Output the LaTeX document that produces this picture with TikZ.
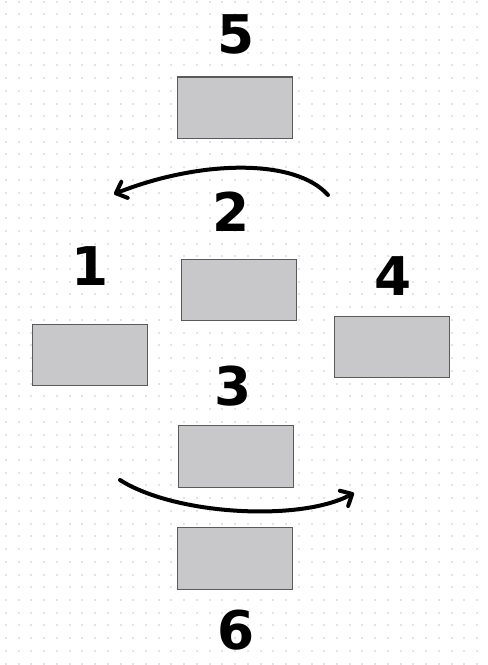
\documentclass[tikz,border=0pt]{standalone}
\usepackage{xcolor}
\usepackage{tikz}
\usepackage{fontspec}
\setmainfont{DejaVu Sans}
\usetikzlibrary{arrows.meta}

\definecolor{gridDot}{HTML}{E2E2E8}
\definecolor{boxFill}{HTML}{C8C8CA}
\definecolor{boxLine}{HTML}{5A5A5A}

\tikzset{
  box/.style={draw=boxLine, fill=boxFill, line width=0.8pt, minimum width=86.25pt, minimum height=46.1pt, inner sep=0pt},
  num/.style={anchor=base, inner sep=0pt, font=\fontsize{40}{40}\selectfont\bfseries},
  curvedarrow/.style={line width=3pt, line cap=round, -{Straight Barb[length=7pt,width=13pt,line cap=round,line join=round]}}
}

\begin{document}
\begin{tikzpicture}[x=0.75pt,y=0.75pt,yscale=-1,xscale=1]

\useasboundingbox (0,0) rectangle (488,665);
\fill[white] (0,0) rectangle (488,665);

% dot grid
\foreach \i in {0,...,37}
  \foreach \j in {0,...,52}
    \fill[gridDot] ({5+12.73*\i},{0.7+12.73*\j}) rectangle ++(2,2);

\node [box] (box5) at (235,107.7) {};
\node [box] (box2) at (239.2,290.2) {};
\node [box] (box1) at (90,355) {};
\node [box] (box4) at (392.2,346.9) {};
\node [box] (box3) at (235.7,456.3) {};
\node [box] (box6) at (235,558.3) {};

\node [num] (lbl5) at (235.7,53) {5};
\node [num] (lbl2) at (230.7,231.7) {2};
\node [num] (lbl1) at (90,285.7) {1};
\node [num] (lbl4) at (392.7,295.7) {4};
\node [num] (lbl3) at (233.3,405) {3};
\node [num] (lbl6) at (235.7,649.5) {6};

\coordinate (topStart) at (328,195);
\coordinate (topEnd) at (114,194);
\coordinate (botStart) at (120,480);
\coordinate (botEnd) at (354,493);

\draw [curvedarrow] (topStart) .. controls (295,158) and (200,160) .. (topEnd);
\draw [curvedarrow] (botStart) .. controls (175,515) and (300,522) .. (botEnd);

\end{tikzpicture}
\end{document}
